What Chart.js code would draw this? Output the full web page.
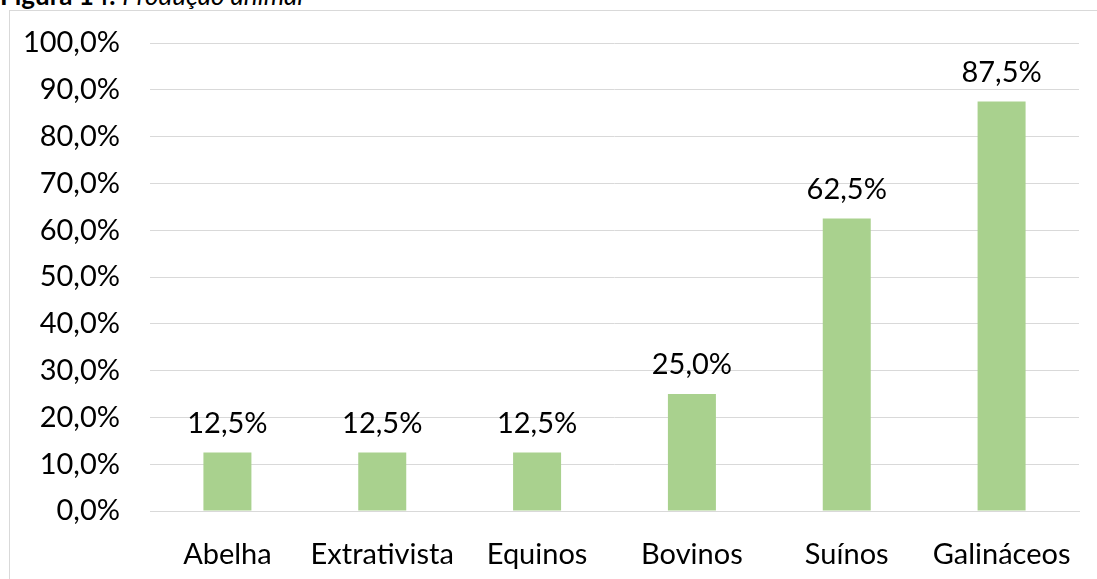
<!DOCTYPE html>
<html>
<head>
<meta charset="utf-8">
<script src="https://cdn.jsdelivr.net/npm/chart.js@4"></script>
<style>
  body { margin: 0; background: #fff; width: 1097px; height: 579px; overflow: hidden; position: relative; font-family: Lato, sans-serif; }
  #title { position: absolute; left: 0; top: -21px; font-size: 26px; line-height: normal; color: #000; white-space: nowrap; }
  #box { position: absolute; left: 9px; top: 10px; width: 1088px; height: 569px; border-left: 1px solid #d9d9d9; border-top: 1px solid #d9d9d9; box-sizing: border-box; }
  #box canvas { position: absolute; left: 0; top: 0; }
</style>
</head>
<body>
<div id="title"><b>Figura 14:</b> <i>Produção animal</i></div>
<div id="box"><canvas id="chart" width="1087" height="568"></canvas></div>
<script>
// chart data
const categories = ['Abelha', 'Extrativista', 'Equinos', 'Bovinos', 'Suínos', 'Galináceos'];
const shares = [12.5, 12.5, 12.5, 25.0, 62.5, 87.5];

// format numbers the Portuguese way
function pct(v, digits) {
  return v.toFixed(digits).replace('.', ',') + '%';
}

// draw the value above each bar
const valueLabels = {
  id: 'valueLabels',
  afterDatasetsDraw(chart) {
    const ctx = chart.ctx;
    const meta = chart.getDatasetMeta(0);
    ctx.save();
    ctx.font = '29px Lato';
    ctx.fillStyle = '#000';
    ctx.textAlign = 'center';
    ctx.textBaseline = 'alphabetic';
    meta.data.forEach((bar, i) => {
      ctx.fillText(pct(shares[i], 1), bar.x, bar.y - 20);
    });
    ctx.restore();
  }
};

const ctx = document.getElementById('chart').getContext('2d');
new Chart(ctx, {
  type: 'bar',
  data: {
    labels: categories,
    datasets: [{
      data: shares,
      backgroundColor: '#a9d18e',
      categoryPercentage: 1,
      barPercentage: 0.31
    }]
  },
  options: {
    responsive: false,
    animation: false,
    layout: { padding: { top: 32, right: 18, bottom: 0, left: 0 } },
    plugins: { legend: { display: false }, tooltip: { enabled: false } },
    scales: {
      x: {
        grid: { display: false },
        border: { color: '#d9d9d9', width: 1 },
        ticks: { color: '#000', font: { family: 'Lato', size: 29 }, padding: 18, maxRotation: 0 },
        afterFit: s => { s.height = 68; s.paddingLeft = 0; s.paddingRight = 0; }
      },
      y: {
        min: 0,
        max: 100,
        grid: { color: '#d9d9d9', drawTicks: false },
        border: { display: false },
        ticks: {
          stepSize: 10,
          color: '#000',
          font: { family: 'Lato', size: 29 },
          padding: 30,
          callback: v => pct(v, 1)
        },
        afterFit: s => { s.width = 140; s.paddingTop = 0; s.paddingBottom = 0; }
      }
    }
  },
  plugins: [valueLabels]
});
</script>
</body>
</html>
